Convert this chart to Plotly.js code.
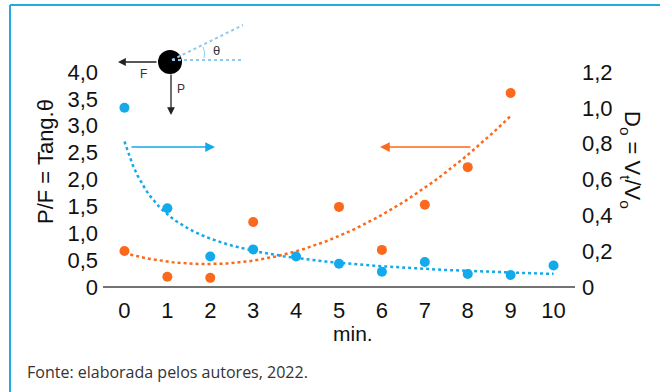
<!DOCTYPE html>
<html><head><meta charset="utf-8">
<script src="https://cdn.plot.ly/plotly-3.0.1.min.js"></script>
<style>html,body{margin:0;padding:0;background:#fff;}#chart{width:660px;height:392px;}</style>
</head><body><div id="chart"></div>
<script>
// ---- data ----
const minutes = [0,1,2,3,4,5,6,7,8,9,10];
const orangeX = [0,1,2,3,5,6,7,8,9];
const orangeY = [0.67,0.19,0.17,1.21,1.49,0.69,1.53,2.23,3.61];   // P/F = Tang.θ (left axis)
const blueY   = [1.00,0.44,0.17,0.21,0.17,0.13,0.085,0.14,0.073,0.067,0.12]; // Do = Vt/Vo (right axis)
const leftTickVals  = [0,0.5,1,1.5,2,2.5,3,3.5,4];
const leftTickText  = ['0','0,5','1,0','1,5','2,0','2,5','3,0','3,5','4,0'];
const rightTickVals = [0,0.2,0.4,0.6,0.8,1.0,1.2];
const rightTickText = ['0','0,2','0,4','0,6','0,8','1,0','1,2'];

const BLUE = '#12aaea', ORANGE = '#fb6a1c';

// quadratic least squares (orange trendline)
function polyfit2(xs, ys){
  let n=xs.length, s=[0,0,0,0,0], t=[0,0,0];
  for(let i=0;i<n;i++){const x=xs[i],y=ys[i];
    for(let k=0;k<5;k++) s[k]+=Math.pow(x,k);
    for(let k=0;k<3;k++) t[k]+=y*Math.pow(x,k);}
  const A=[[s[0],s[1],s[2],t[0]],[s[1],s[2],s[3],t[1]],[s[2],s[3],s[4],t[2]]];
  for(let i=0;i<3;i++){for(let j=i+1;j<3;j++){const f=A[j][i]/A[i][i];for(let k=i;k<4;k++)A[j][k]-=f*A[i][k];}}
  const c=[0,0,0];
  for(let i=2;i>=0;i--){let v=A[i][3];for(let k=i+1;k<3;k++)v-=A[i][k]*c[k];c[i]=v/A[i][i];}
  return c;
}
// power fit on (x+1) (blue trendline)
function powerfit(xs, ys){
  const lx=xs.map(x=>Math.log(x+1)), ly=ys.map(Math.log);
  const n=xs.length, mx=lx.reduce((a,b)=>a+b)/n, my=ly.reduce((a,b)=>a+b)/n;
  let sxy=0,sxx=0; for(let i=0;i<n;i++){sxy+=(lx[i]-mx)*(ly[i]-my);sxx+=(lx[i]-mx)**2;}
  const b=sxy/sxx; return [Math.exp(my-b*mx), b];
}
const oc = polyfit2(orangeX, orangeY);
const [pa, pb] = powerfit(minutes, blueY);
const oTx=[],oTy=[],bTx=[],bTy=[];
for(let i=0;i<=90;i++){const x=i/10;oTx.push(x);oTy.push(oc[0]+oc[1]*x+oc[2]*x*x);}
for(let i=0;i<=100;i++){const x=i/10;bTx.push(x);bTy.push(pa*Math.pow(x+1,pb));}

const traces = [
  {x:oTx,y:oTy,mode:'lines',line:{color:ORANGE,width:2.5,dash:'dot'},yaxis:'y',hoverinfo:'skip'},
  {x:bTx,y:bTy,mode:'lines',line:{color:BLUE,width:2.5,dash:'dot'},yaxis:'y2',hoverinfo:'skip'},
  {x:orangeX,y:orangeY,mode:'markers',marker:{color:ORANGE,size:10},yaxis:'y'},
  {x:minutes,y:blueY,mode:'markers',marker:{color:BLUE,size:10},yaxis:'y2'}
];

// pixel -> paper helpers for decorations
const L=103,R=575,T=72,B=287;
const px = v => (v-L)/(R-L);
const py = v => (B-v)/(B-T);
const TF = {family:'Liberation Sans, Arial, sans-serif', size:22, color:'#111'};
const C = {xanchor:'center',yanchor:'middle',showarrow:false};

const shapes = [
  {type:'line',xref:'paper',yref:'paper',x0:0,x1:1,y0:0,y1:0,line:{color:'#444',width:1.5}},
  {type:'circle',xref:'paper',yref:'paper',x0:px(158),x1:px(182),y0:py(50),y1:py(74),fillcolor:'#000',line:{width:0}},
  {type:'line',xref:'paper',yref:'paper',x0:px(172),x1:px(243),y0:py(60),y1:py(60),line:{color:'#8ec9ef',width:2,dash:'dot'}},
  {type:'line',xref:'paper',yref:'paper',x0:px(172),x1:px(243),y0:py(60),y1:py(25),line:{color:'#8ec9ef',width:2,dash:'dot'}},
  {type:'path',xref:'paper',yref:'paper',path:`M ${px(203)} ${py(47)} Q ${px(206)} ${py(53)} ${px(204)} ${py(58)}`,line:{color:'#8ec9ef',width:1}},
  {type:'line',xref:'paper',yref:'paper',x0:px(10),x1:px(10),y0:py(5),y1:py(392),line:{color:'#2aa7df',width:2}},
  {type:'line',xref:'paper',yref:'paper',x0:px(10),x1:px(660),y0:py(5),y1:py(5),line:{color:'#2aa7df',width:2}}
];

const annotations = [
  {...C,xref:'paper',yref:'paper',x:px(45),y:py(162),text:'P/F = Tang.θ',textangle:-90,font:{...TF,size:22}},
  {...C,xref:'paper',yref:'paper',x:px(631),y:py(160),text:'D<sub>o</sub> = V<sub>t</sub>/V<sub>o</sub>',textangle:90,font:{...TF,size:22}},
  {...C,xref:'paper',yref:'paper',x:px(353),y:py(333),text:'min.',font:{...TF,size:21}},
  {xref:'paper',yref:'paper',x:px(25),y:py(372),xanchor:'left',yanchor:'middle',text:'Fonte: elaborada pelos autores, 2022.',showarrow:false,font:{family:'Open Sans, sans-serif',size:16,color:'#333'}},
  {xref:'paper',yref:'paper',x:px(118),y:py(62),ax:40,ay:0,text:'',showarrow:true,arrowhead:2,arrowsize:1.2,arrowwidth:1.3,arrowcolor:'#222'},
  {xref:'paper',yref:'paper',x:px(171),y:py(115),ax:0,ay:-42,text:'',showarrow:true,arrowhead:2,arrowsize:1.2,arrowwidth:1.3,arrowcolor:'#222'},
  {...C,xref:'paper',yref:'paper',x:px(143),y:py(74),text:'F',font:{family:'Liberation Sans, Arial',size:12,color:'#333'}},
  {...C,xref:'paper',yref:'paper',x:px(181),y:py(89),text:'P',font:{family:'Liberation Sans, Arial',size:12,color:'#333'}},
  {...C,xref:'paper',yref:'paper',x:px(216),y:py(50),text:'θ',font:{family:'Liberation Sans, Arial',size:13,color:'#333'}},
  {xref:'paper',yref:'paper',x:px(215),y:py(147),ax:-85,ay:0,text:'',showarrow:true,arrowhead:2,arrowsize:1.3,arrowwidth:1.5,arrowcolor:BLUE},
  {xref:'paper',yref:'paper',x:px(380),y:py(147),ax:92,ay:0,text:'',showarrow:true,arrowhead:2,arrowsize:1.3,arrowwidth:1.5,arrowcolor:ORANGE}
];

const layout = {
  width:660,height:392,
  margin:{l:L,r:660-R,t:T,b:392-B,pad:0},
  paper_bgcolor:'#fff',plot_bgcolor:'#fff',
  showlegend:false,
  xaxis:{range:[-0.5,10.5],tickvals:minutes,ticktext:minutes.map(String),showgrid:false,zeroline:false,showline:false,ticks:'',ticklabelstandoff:8,tickfont:TF},
  yaxis:{range:[0,4],tickvals:leftTickVals,ticktext:leftTickText,showgrid:false,zeroline:false,showline:false,ticks:'',ticklabelstandoff:4,tickfont:TF},
  yaxis2:{range:[0,1.2],overlaying:'y',side:'right',tickvals:rightTickVals,ticktext:rightTickText,showgrid:false,zeroline:false,showline:false,ticks:'',ticklabelstandoff:6,tickfont:TF},
  shapes, annotations
};
Plotly.newPlot('chart', traces, layout, {staticPlot:true});
</script></body></html>
